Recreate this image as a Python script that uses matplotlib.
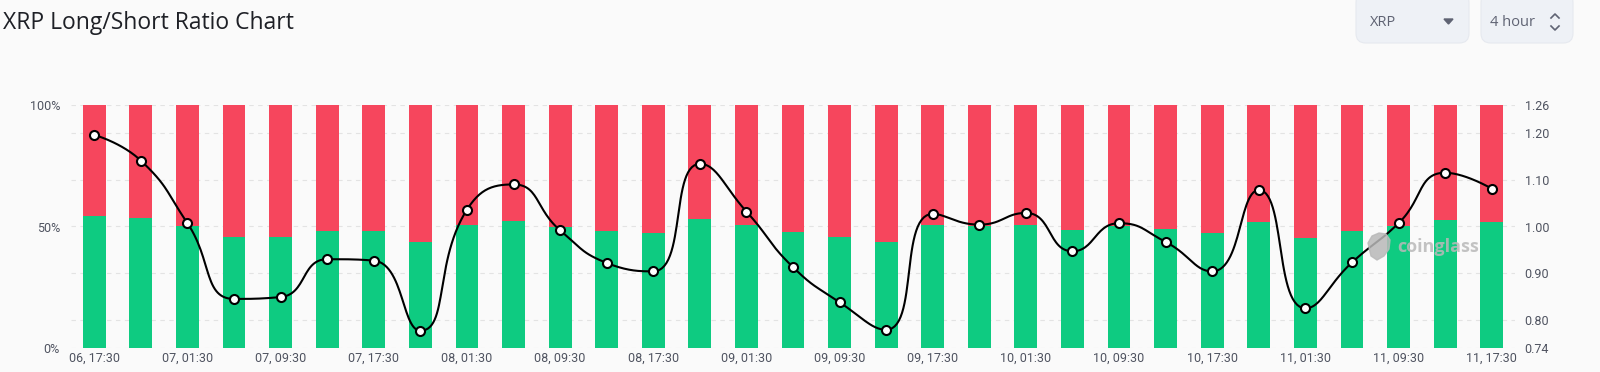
"""XRP long/short ratio chart (4 hour), redrawn with matplotlib."""

import numpy as np
import matplotlib

matplotlib.use("Agg")
import matplotlib.pyplot as plt  # noqa: E402
from matplotlib.patches import FancyBboxPatch, Polygon  # noqa: E402
from matplotlib.lines import Line2D  # noqa: E402
from matplotlib.transforms import blended_transform_factory  # noqa: E402

TIMES = [
    "06, 17:30", "06, 21:30", "07, 01:30", "07, 05:30", "07, 09:30", "07, 13:30",
    "07, 17:30", "07, 21:30", "08, 01:30", "08, 05:30", "08, 09:30", "08, 13:30",
    "08, 17:30", "08, 21:30", "09, 01:30", "09, 05:30", "09, 09:30", "09, 13:30",
    "09, 17:30", "09, 21:30", "10, 01:30", "10, 05:30", "10, 09:30", "10, 13:30",
    "10, 17:30", "10, 21:30", "11, 01:30", "11, 05:30", "11, 09:30", "11, 13:30",
    "11, 17:30",
]
LONG_PCT = [
    54.5, 53.4, 50.1, 45.7, 45.7, 48.1, 48.1, 43.6, 50.8, 52.3, 49.7,
    48.0, 47.3, 53.1, 50.8, 47.7, 45.7, 43.8, 50.6, 50.1, 50.6, 48.7,
    50.1, 49.1, 47.3, 51.9, 45.1, 48.0, 50.1, 52.7, 52.0,
]
RATIO = [
    1.196, 1.141, 1.007, 0.845, 0.849, 0.930, 0.927, 0.777, 1.036, 1.090, 0.992,
    0.922, 0.904, 1.134, 1.032, 0.913, 0.838, 0.779, 1.027, 1.004, 1.029, 0.947,
    1.007, 0.967, 0.904, 1.078, 0.825, 0.923, 1.007, 1.115, 1.081,
]
RATIO_TICKS = [0.74, 0.80, 0.90, 1.00, 1.10, 1.20, 1.26]
PCT_TICKS = [0, 50, 100]

W, H = 1600, 372
BG = "#fafafa"
RED = "#f6465d"
GREEN = "#0ecb81"
TICK_C = "#4f5360"

plt.rcParams.update({"font.family": ["Roboto", "DejaVu Sans"], "font.size": 9})


def fpx(x, y):
    """Pixel position (from top-left) to figure fraction."""
    return x / W, 1 - y / H


def smooth_path(pts, smooth=0.5, steps=30):
    """Bezier smoothing in the style of the web chart (control points clamped per segment)."""
    n = len(pts)
    cp_in = pts.copy()
    cp_out = pts.copy()
    for i in range(1, n - 1):
        p0, p, p1 = pts[i - 1], pts[i], pts[i + 1]
        v = p1 - p0
        l0 = np.hypot(*(p - p0))
        l1 = np.hypot(*(p1 - p))
        r = l1 / (l0 + l1)
        co = p + v * smooth * r
        co = np.clip(co, np.minimum(p, p1), np.maximum(p, p1))
        ci = p - (co - p) * l0 / l1
        ci = np.clip(ci, np.minimum(p0, p), np.maximum(p0, p))
        co = p + (p - ci) * l1 / l0
        cp_in[i], cp_out[i] = ci, co
    t = np.linspace(0, 1, steps)[:, None]
    out = [pts[:1]]
    for i in range(n - 1):
        a, b, c, d = pts[i], cp_out[i], cp_in[i + 1], pts[i + 1]
        seg = (1 - t) ** 3 * a + 3 * (1 - t) ** 2 * t * b + 3 * (1 - t) * t ** 2 * c + t ** 3 * d
        out.append(seg[1:])
    return np.vstack(out)


fig = plt.figure(figsize=(W / 100, H / 100), dpi=100, facecolor=BG)
x0, y0 = fpx(71, 348)
x1, y1 = fpx(1515, 105)
ax = fig.add_axes([x0, y0, x1 - x0, y1 - y0])
ax.set_facecolor(BG)

x = np.arange(len(TIMES))
long_v = np.array(LONG_PCT)
ax.bar(x, long_v, width=0.49, color=GREEN, zorder=2)
ax.bar(x, 100 - long_v, bottom=long_v, width=0.49, color=RED, zorder=2)
ax.set_xlim(-0.5, len(TIMES) - 0.5)
ax.set_ylim(0, 100)
ax.set_yticks(PCT_TICKS, [f"{v}%" for v in PCT_TICKS])
ax.set_xticks(x[::2], TIMES[::2])
ax.tick_params(axis="y", length=0, pad=8, colors=TICK_C, labelsize=9)
ax.tick_params(axis="x", length=0, pad=3, colors=TICK_C, labelsize=9)
for s in ax.spines.values():
    s.set_visible(False)

ax2 = ax.twinx()
ax2.set_ylim(RATIO_TICKS[0], RATIO_TICKS[-1])
ax2.set_yticks(RATIO_TICKS, [f"{v:.2f}" for v in RATIO_TICKS])
ax2.tick_params(axis="y", length=0, pad=7, colors=TICK_C, labelsize=9)
for s in ax2.spines.values():
    s.set_visible(False)

# dashed grid at the ratio ticks, drawn behind the bars
grid_tr = blended_transform_factory(ax.transAxes, ax2.transData)
for v in RATIO_TICKS:
    ax.plot([0, 1], [v, v], transform=grid_tr, color="#e3e3e3", lw=0.8,
            ls=(0, (4, 4)), zorder=1)

# smooth ratio line computed in pixel space
disp = ax2.transData.transform(np.column_stack([x, RATIO]).astype(float))
curve = ax2.transData.inverted().transform(smooth_path(disp))
ax2.plot(curve[:, 0], curve[:, 1], color="black", lw=1.5, zorder=4)
ax2.plot(x, RATIO, "o", ms=6.5, mfc="white", mec="black", mew=1.5, zorder=5)

# watermark
logo = [(1368, 243), (1372, 236), (1379, 233), (1386, 234), (1390, 240),
        (1389, 249), (1384, 256), (1377, 260), (1371, 256)]
fig.patches.append(Polygon([fpx(*p) for p in logo], closed=True, transform=fig.transFigure,
                           color="#b9b9b9", alpha=0.85, zorder=6))
fig.text(*fpx(1397, 247), "coinglass", fontsize=13, fontweight="bold", color="#b9b9b9",
         alpha=0.85, ha="left", va="center", family=["Open Sans", "DejaVu Sans"], zorder=6)

# header
fig.text(*fpx(3, 23), "XRP Long/Short Ratio Chart", fontsize=16.5, color="#1e2026",
         ha="left", va="center", family=["Open Sans", "DejaVu Sans"])
for bx0, bx1 in [(1356, 1469), (1481, 1573)]:
    bl, bt = fpx(bx0, 43)
    br, _ = fpx(bx1, 0)
    fig.patches.append(FancyBboxPatch((bl, bt), br - bl, 50 / H,
                                      boxstyle="round,pad=0,rounding_size=0.006",
                                      transform=fig.transFigure, fc="#eef1f6",
                                      ec="#e6e9ef", lw=0.8, mutation_aspect=W / H))
fig.text(*fpx(1370, 22), "XRP", fontsize=10.5, color="#5f6373", ha="left", va="center",
         family=["Open Sans", "DejaVu Sans"])
fig.patches.append(Polygon([fpx(1444, 19), fpx(1453, 19), fpx(1448.5, 24)], closed=True,
                           transform=fig.transFigure, color="#5f6373"))
fig.text(*fpx(1490, 22), "4 hour", fontsize=10.5, color="#5f6373", ha="left", va="center",
         family=["Open Sans", "DejaVu Sans"])
for pts in ([(1551, 18), (1555, 14), (1559, 18)], [(1551, 26), (1555, 30), (1559, 26)]):
    xs, ys = zip(*[fpx(*p) for p in pts])
    fig.lines.append(Line2D(xs, ys, transform=fig.transFigure, color="#5f6373", lw=1.2))

fig.savefig("out.png", dpi=100, facecolor=BG)
